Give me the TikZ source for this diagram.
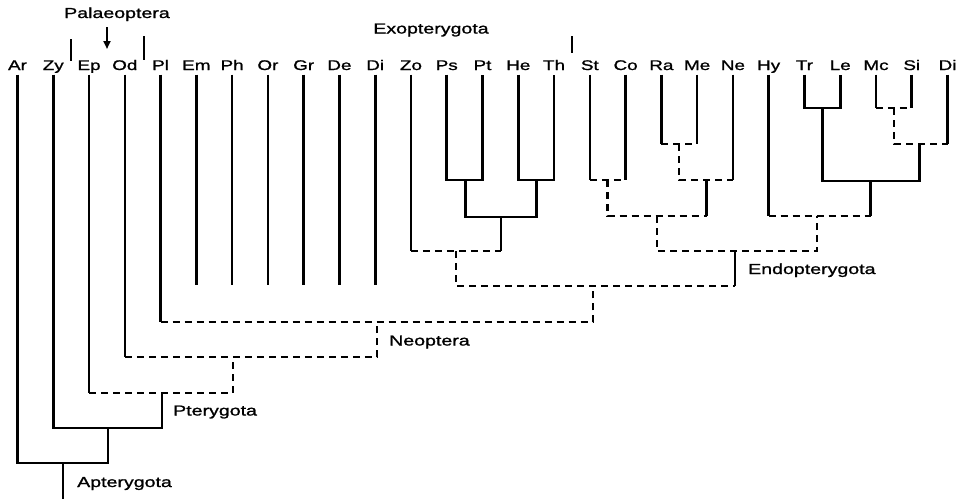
\documentclass[tikz,border=0pt]{standalone}
\usepackage{fontspec}
\setmainfont{Liberation Sans}[FakeStretch=1.35,FakeBold=1.2]
\usetikzlibrary{arrows.meta}
\begin{document}
\begin{tikzpicture}[x=1pt,y=-1pt,
  solidl/.style={line width=2.6pt},
  dashl/.style={line width=2.6pt, dash pattern=on 7pt off 5pt},
  tick/.style={line width=2.4pt},
  leaf/.style={inner sep=0pt, anchor=base, text depth=4.5pt, font=\fontsize{14}{16}\selectfont},
  clade/.style={inner sep=0pt, anchor=base west, font=\fontsize{14.5}{16}\selectfont},
]
\useasboundingbox (0,0) rectangle (960,499);
% leaves
\foreach \n/\t [count=\i from 0] in {Ar/Ar,Zy/Zy,Ep/Ep,Od/Od,Pl/Pl,Em/Em,Ph/Ph,Or/Or,Gr/Gr,De/De,Di/Di,Zo/Zo,Ps/Ps,Pt/Pt,He/He,Th/Th,St/St,Co/Co,Ra/Ra,Me/Me,Ne/Ne,Hy/Hy,Tr/Tr,Le/Le,Mc/Mc,Si/Si,DiB/Di}
  \node[leaf] (\n) at ({17.5+35.77*\i},70) {\t};
% internal nodes
\coordinate (root) at (63,463);
\coordinate (rootbase) at (63,499);
\coordinate (zypt) at (108,428);
\coordinate (ptery) at (162,393);
\coordinate (neood) at (233,357);
\coordinate (neo) at (377,322);
\coordinate (exoendo) at (593,286);
\coordinate (zocl) at (456,251);
\coordinate (pspthe) at (501,217);
\coordinate (pspt) at (465.5,180);
\coordinate (heth) at (536.5,180);
\coordinate (endo) at (735,251);
\coordinate (stra) at (657,216);
\coordinate (stco) at (607.5,180);
\coordinate (ramene) at (706.5,180);
\coordinate (rame) at (679,144);
\coordinate (hyrest) at (817,216);
\coordinate (trmcdi) at (870.5,181);
\coordinate (trle) at (822.5,108);
\coordinate (mcsidi) at (919.5,144);
\coordinate (mcsi) at (894,108);
\coordinate (polyend) at (0,285);
% basal part
\draw[solidl] (Ar.south) |- (root) -| (zypt);
\draw[solidl] (root) -- (rootbase);
\draw[solidl] (Zy.south) |- (zypt) -| (ptery);
\draw[solidl] (Ep.south) -- (Ep.south |- ptery);
\draw[dashl] (Ep.south |- ptery) -| (neood);
\draw[solidl] (Od.south) -- (Od.south |- neood);
\draw[dashl] (Od.south |- neood) -| (neo);
\draw[solidl] (Pl.south) -- (Pl.south |- neo);
\draw[dashl] (Pl.south |- neo) -| (exoendo);
\foreach \n in {Em,Ph,Or,Gr,De,Di}
  \draw[solidl] (\n.south) -- (\n.south |- polyend);
% Exopterygota
\draw[solidl] (Zo.south) -- (Zo.south |- zocl);
\draw[dashl] (Zo.south |- zocl) -- (pspthe |- zocl);
\draw[solidl] (pspthe |- zocl) -- (pspthe);
\draw[solidl] (Ps.south) |- (pspt) -| (Pt.south);
\draw[solidl] (He.south) |- (heth) -| (Th.south);
\draw[solidl] (pspt) |- (pspthe) -| (heth);
\draw[dashl] (zocl) |- (endo |- exoendo);
\draw[solidl] (endo |- exoendo) -- (endo);
% Endopterygota
\draw[solidl] (St.south) -- (St.south |- stco);
\draw[solidl] (Co.south) -- (Co.south |- stco);
\draw[dashl] (St.south |- stco) -- (Co.south |- stco);
\draw[dashl] (stco) |- (ramene |- stra);
\draw[solidl] (ramene |- stra) -- (ramene);
\draw[solidl] (Ra.south) -- (Ra.south |- rame);
\draw[solidl] (Me.south) -- (Me.south |- rame);
\draw[dashl] (Ra.south |- rame) -- (Me.south |- rame);
\draw[dashl] (rame) |- (Ne.south |- ramene);
\draw[solidl] (Ne.south) -- (Ne.south |- ramene);
\draw[dashl] (stra) |- (hyrest |- endo) -- (hyrest);
\draw[solidl] (Hy.south) -- (Hy.south |- hyrest);
\draw[dashl] (Hy.south |- hyrest) -- (trmcdi |- hyrest);
\draw[solidl] (trmcdi |- hyrest) -- (trmcdi);
\draw[solidl] (Tr.south) |- (trle) -| (Le.south);
\draw[solidl] (trle) |- (trmcdi) -| (mcsidi);
\draw[solidl] (Mc.south) -- (Mc.south |- mcsi);
\draw[solidl] (Si.south) -- (Si.south |- mcsi);
\draw[dashl] (Mc.south |- mcsi) -- (Si.south |- mcsi);
\draw[dashl] (mcsi) |- (DiB.south |- mcsidi);
\draw[solidl] (DiB.south) -- (DiB.south |- mcsidi);
% clade labels
\node[clade] (neolab) at (389,345.5) {Neoptera};
\node[clade] (ptlab) at (173,415.5) {Pterygota};
\node[clade] (aplab) at (77,487) {Apterygota};
\node[clade] (endlab) at (748,274) {Endopterygota};
\node[clade, anchor=base] (exolab) at (431,33.5) {Exopterygota};
\node[clade, anchor=base] (palab) at (117,18) {Palaeoptera};
% arrow and ticks
\coordinate (arrtop) at (107,27);
\coordinate (arrtip) at (107,49);
\draw[line width=2.2pt, -{Triangle[length=8pt,width=7pt]}] (arrtop) -- (arrtip);
\coordinate (t1a) at (71,39); \coordinate (t1b) at (71,61);
\coordinate (t2a) at (144,36); \coordinate (t2b) at (144,60);
\coordinate (t3a) at (572,36); \coordinate (t3b) at (572,53);
\draw[tick] (t1a) -- (t1b);
\draw[tick] (t2a) -- (t2b);
\draw[tick] (t3a) -- (t3b);
\end{tikzpicture}
\end{document}
